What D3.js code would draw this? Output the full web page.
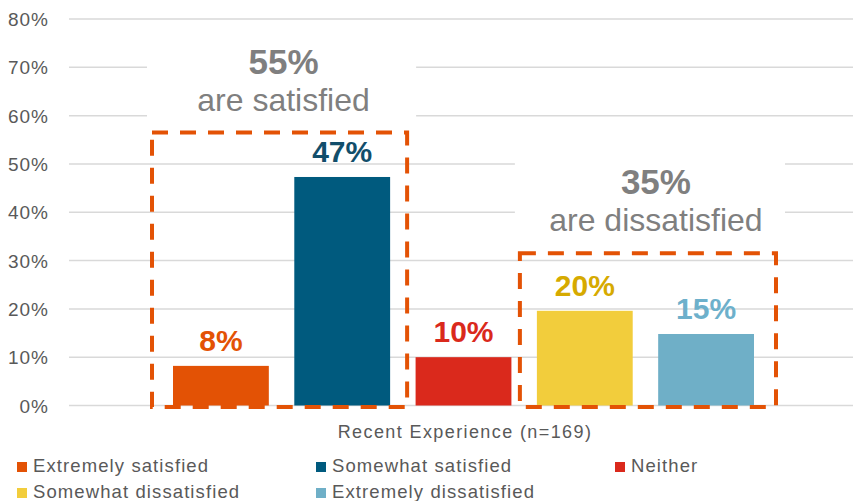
<!DOCTYPE html>
<html><head><meta charset="utf-8">
<script src="https://cdn.jsdelivr.net/npm/d3@7"></script>
<style>body{margin:0;background:#fff}svg{display:block;font-family:"Liberation Sans",Arial,sans-serif}</style>
</head><body><svg id="c" width="853" height="501"></svg>
<script>
const seriesNames = ["Extremely satisfied","Somewhat satisfied","Neither","Somewhat dissatisfied","Extremely dissatisfied"];
const seriesValues = [0.082, 0.473, 0.100, 0.196, 0.148];
const valueLabels = ["8%","47%","10%","20%","15%"];
const barColors = ["#E35205","#005A7E","#DA291C","#F2CD3C","#6FAFC7"];
const labelColors = ["#E35205","#124E6B","#DA291C","#D6AA00","#6DB0CB"];
const yTicks = [0,0.1,0.2,0.3,0.4,0.5,0.6,0.7,0.8];
const categoryLabel = "Recent Experience (n=169)";
const groupTotals = ["55%","35%"];
const groupTexts = ["are satisfied","are dissatisfied"];
const groupMembers = [[0,1],[3,4]];
const groupTops = [0.565, 0.315];

const svg = d3.select("#c");
const y = d3.scaleLinear().domain([0,0.8]).range([405.5,19]);
const x = d3.scaleBand().domain(seriesNames).range([173,754]).paddingInner(0.21).paddingOuter(0);

// gridlines
svg.append("g").selectAll("line").data(yTicks).join("line")
  .attr("x1",69).attr("x2",853)
  .attr("y1",d=>y(d)).attr("y2",d=>y(d))
  .attr("stroke","#d9d9d9").attr("stroke-width",1.5);

// y axis labels
const yAxis = d3.axisLeft(y).tickValues(yTicks).tickFormat(d3.format(".0%")).tickSize(0).tickPadding(0);
const ga = svg.append("g").attr("transform","translate(49,0)").call(yAxis);
ga.select(".domain").remove();
ga.selectAll("text").attr("font-size",19).attr("letter-spacing",1).attr("fill","#595959")
  .attr("font-family","Liberation Sans, Arial, sans-serif").attr("dy","0.35em");

// white label backgrounds
const boxes = groupMembers.map((m,i)=>{
  const x0 = x(seriesNames[m[0]]) - (i===0?21:17);
  const x1 = x(seriesNames[m[1]]) + x.bandwidth() + (i===0?17:22);
  return {x0,x1,top:y(groupTops[i])};
});
boxes.forEach((b,i)=>{
  svg.append("rect").attr("x",b.x0-5).attr("y",b.top-102).attr("width",b.x1-b.x0+14).attr("height",94).attr("fill","#fff");
});

// bars
svg.append("g").selectAll("rect").data(seriesValues).join("rect")
  .attr("x",(d,i)=>x(seriesNames[i])).attr("width",x.bandwidth())
  .attr("y",d=>y(d)).attr("height",d=>y(0)-y(d))
  .attr("fill",(d,i)=>barColors[i]);

// value labels
svg.append("g").selectAll("text").data(seriesValues).join("text")
  .attr("x",(d,i)=>x(seriesNames[i])+x.bandwidth()/2).attr("y",d=>y(d)-15)
  .attr("text-anchor","middle").attr("font-size",30).attr("font-weight","bold")
  .attr("fill",(d,i)=>labelColors[i]).text((d,i)=>valueLabels[i]);

// dashed boxes
boxes.forEach(b=>{
  svg.append("rect").attr("x",b.x0).attr("y",b.top).attr("width",b.x1-b.x0).attr("height",y(0)+1.5-b.top)
    .attr("fill","none").attr("stroke","#E35205").attr("stroke-width",4).attr("stroke-dasharray","16 12");
});

// group annotations
boxes.forEach((b,i)=>{
  const cx = (b.x0+b.x1)/2 + (i===0?4:8);
  svg.append("text").attr("x",cx).attr("y",b.top-59).attr("text-anchor","middle")
    .attr("font-size",35).attr("font-weight","bold").attr("fill","#7F7F7F").text(groupTotals[i]);
  svg.append("text").attr("x",cx).attr("y",b.top-22).attr("text-anchor","middle")
    .attr("font-size",32).attr("fill","#7F7F7F").text(groupTexts[i]);
});

// category label
svg.append("text").attr("x",465).attr("y",438).attr("text-anchor","middle")
  .attr("font-size",18).attr("letter-spacing",1.4).attr("fill","#595959").text(categoryLabel);

// legend
const legX = [17,316,615];
const legend = svg.append("g").selectAll("g").data(seriesNames).join("g")
  .attr("transform",(d,i)=>`translate(${legX[i%3]},${i<3?472:498})`);
legend.append("rect").attr("x",0).attr("y",-10).attr("width",10).attr("height",10).attr("fill",(d,i)=>barColors[i]);
legend.append("text").attr("x",16).attr("y",0).attr("font-size",18.5).attr("letter-spacing",1.1)
  .attr("fill","#595959").text(d=>d);
</script></body></html>
